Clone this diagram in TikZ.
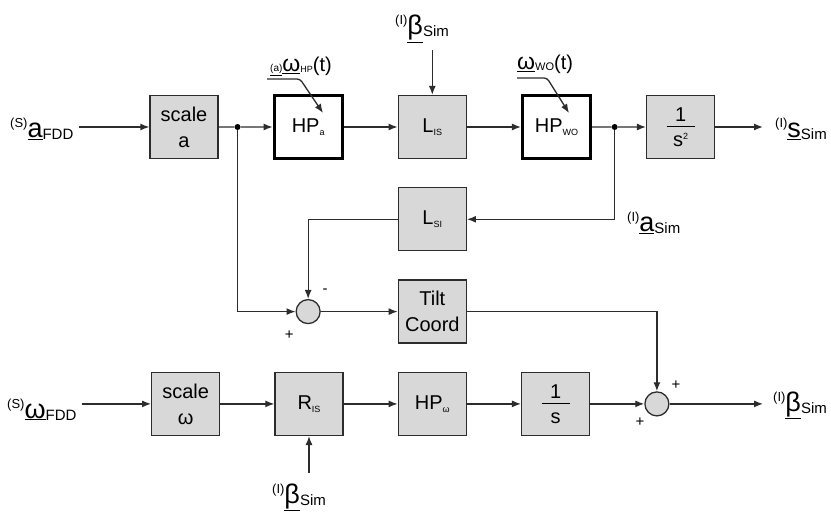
\documentclass[tikz,border=0pt]{standalone}
\usepackage{fontspec}
\setmainfont{Liberation Sans}
\usetikzlibrary{positioning,arrows.meta,calc}
\definecolor{blockgray}{HTML}{D8D8D8}
\definecolor{linegray}{HTML}{2C2C2C}
\newcommand{\fs}[1]{\fontsize{#1bp}{#1bp}\selectfont}
\newcommand{\blockfont}{\fontsize{20bp}{26bp}\selectfont}
\newcommand{\bsub}[1]{\raisebox{-3bp}{\fs{9}#1}}
% signal name: frame, symbol, index
\newcommand{\sig}[3]{{\fs{13}\raisebox{10bp}{(#1)}}\underline{\fs{27}#2}\raisebox{-2bp}{\fs{15}#3}}
\newcommand{\frc}[2]{#1\\[-20.4bp]\rule{28bp}{1.2bp}\\[-6.6bp]#2}
\tikzset{
  block/.style={draw=linegray, fill=blockgray, line width=1.3bp, minimum width=68bp, minimum height=63bp, inner sep=0pt, align=center, font=\blockfont},
  hpblock/.style={block, draw=black, fill=white, line width=3bp},
  sumnode/.style={circle, draw=linegray, fill=blockgray, line width=1.3bp, minimum size=24bp, inner sep=0pt},
  dotnode/.style={circle, fill=black, inner sep=0pt, minimum size=6bp},
  siglabel/.style={inner sep=0pt, anchor=base west},
  signnode/.style={inner sep=0pt, font=\fs{15}},
  sigarrow/.style={-{Latex[length=9bp,width=7bp]}, line width=1.3bp, draw=linegray},
  sigline/.style={line width=1.3bp, draw=linegray}
}

\begin{document}
\begin{tikzpicture}[x=1bp, y=-1bp, node distance=28bp and 54bp]
  \useasboundingbox (0,0) rectangle (831,513);
  % translational path
  \node[block] (scalea) at (184,127) {scale\\a};
  \node[hpblock, right=of scalea] (hpa) {HP\bsub{a}};
  \node[block, right=of hpa] (lis) {L\bsub{IS}};
  \node[hpblock, right=of lis] (hpwo) {HP\bsub{WO}};
  \node[block, right=of hpwo] (invss) {\frc{1}{s\raisebox{7bp}{\fs{9}2}}};
  \node[block, below=of lis] (lsi) {L\bsub{SI}};
  \node[block, below=of lsi] (tilt) {Tilt\\Coord};
  % rotational path
  \node[block, below=of tilt] (hpw) {HP\bsub{ω}};
  \node[block, left=of hpw] (ris) {R\bsub{IS}};
  \node[block, left=of ris] (scalew) {scale\\ω};
  \node[block, right=of hpw] (invs) {\frc{1}{s}};
  \node[sumnode, right=of invs] (sumb) {};
  \node[sumnode] (suma) at (hpa |- tilt) {};
  \node[dotnode] (dota) at ($(scalea.east)!0.35!(hpa.west)$) {};
  \node[dotnode] (dotb) at ($(hpwo.east)!0.42!(invss.west)$) {};
  % signal names
  \node[siglabel] (afdd) at (10,138) {\sig{S}{a}{FDD}};
  \node[siglabel] (wfdd) at (7,418) {\sig{S}{ω}{FDD}};
  \node[siglabel] (ssim) at (775,138) {\sig{I}{s}{Sim}};
  \node[siglabel] (asim) at (627,232) {\sig{I}{a}{Sim}};
  \node[siglabel] (btop) at (395,35) {\sig{I}{β}{Sim}};
  \node[siglabel] (bbot) at (272,503) {\sig{I}{β}{Sim}};
  \node[siglabel] (bout) at (773,411) {\sig{I}{β}{Sim}};
  \node[siglabel] (whp) at (270,72) {\underline{\fs{10}(a)}\underline{\fs{23}ω}\raisebox{-1bp}{\fs{9}HP}{\fs{20}(t)}};
  \node[siglabel] (wwo) at (517,70) {\underline{\fs{23}ω}\raisebox{-1bp}{\fs{11}WO}{\fs{20}(t)}};
  \node[signnode] at ($(suma)+(17,-20)$) {-};
  \node[signnode] at ($(suma)+(-19,24)$) {+};
  \node[signnode] at ($(sumb)+(19,-19)$) {+};
  \node[signnode] at ($(sumb)+(-17,18)$) {+};
  \coordinate (souta) at (invss -| 763,0);
  \coordinate (soutb) at (sumb -| 763,0);
  \coordinate (bbotend) at (ris.south |- 0,473);
  \coordinate (btopend) at (lis.north |- 0,50);
  \coordinate (whpa) at (267,79);
  \coordinate (whpb) at (300,79);
  \coordinate (whpc) at (323,113);
  \coordinate (wwoa) at (517,78);
  \coordinate (wwob) at (547,78);
  \coordinate (wwoc) at (569,113);
  % connectors
  \draw[sigarrow, shorten <=5bp] (afdd.east |- scalea.west) -- (scalea.west);
  \draw[sigline] (scalea) -- (dota);
  \draw[sigarrow] (dota) -- (hpa);
  \draw[sigarrow] (hpa) -- (lis);
  \draw[sigarrow] (lis) -- (hpwo);
  \draw[sigline] (hpwo) -- (dotb);
  \draw[sigarrow] (dotb) -- (invss);
  \draw[sigarrow] (invss) -- (souta);
  \draw[sigarrow] (btopend) -- (lis);
  \draw[sigarrow, rounded corners=3bp] (whpa) -- (whpb) -- (whpc);
  \draw[sigarrow, rounded corners=3bp] (wwoa) -- (wwob) -- (wwoc);
  \draw[sigarrow] (dotb) |- (lsi);
  \draw[sigarrow] (lsi) -| (suma);
  \draw[sigarrow] (dota) |- (suma);
  \draw[sigarrow] (suma) -- (tilt);
  \draw[sigarrow] (tilt) -| (sumb);
  \draw[sigarrow, shorten <=5bp] (wfdd.east |- scalew.west) -- (scalew.west);
  \draw[sigarrow] (scalew) -- (ris);
  \draw[sigarrow] (ris) -- (hpw);
  \draw[sigarrow] (hpw) -- (invs);
  \draw[sigarrow] (invs) -- (sumb);
  \draw[sigarrow] (sumb) -- (soutb);
  \draw[sigarrow] (bbotend) -- (ris);
\end{tikzpicture}
\end{document}
